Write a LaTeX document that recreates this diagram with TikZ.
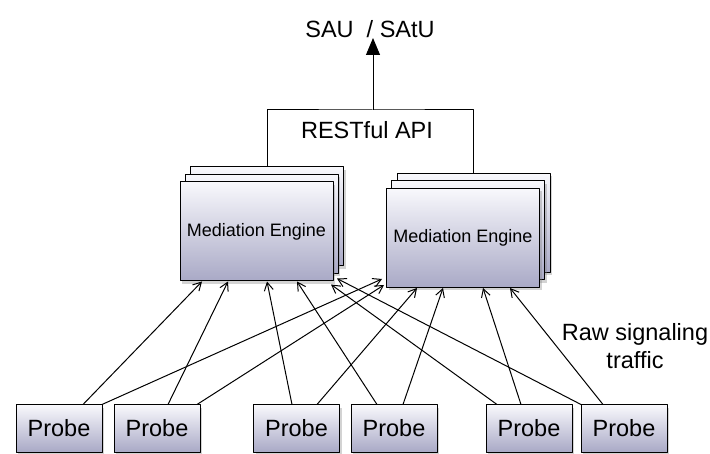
\documentclass[tikz,border=0pt]{standalone}
\usepackage{fontspec}
\setmainfont{Liberation Sans}
\usetikzlibrary{arrows.meta,shadows}
\definecolor{boxtop}{HTML}{F8F8FC}
\definecolor{boxbot}{HTML}{A9A9C6}
\begin{document}
\begin{tikzpicture}[x=1pt,y=-1pt,line join=round,
	font=\fontsize{23.5}{28}\selectfont,
	>={Straight Barb[length=8pt,width=9pt]},
	box/.style={draw,line width=1pt,top color=boxtop,bottom color=boxbot,
		drop shadow={opacity=0.35,shadow xshift=2pt,shadow yshift=-3pt}},
	engine/.style={box,minimum width=153pt,minimum height=99pt,inner sep=0pt,
		font=\fontsize{18}{22}\selectfont},
	probe/.style={box,minimum width=86pt,minimum height=47pt,inner sep=0pt},
	feed/.style={->,line width=1pt}]
	\useasboundingbox (0,0) rectangle (710,454);
	% stacked mediation engines
	\foreach \n/\x/\y in {m1/256.5/231.5,m2/463/238}{
		\node[engine] (\n c) at (\x+10.5,\y-15) {};
		\node[engine] (\n b) at (\x+5,\y-7.5) {};
		\node[engine] (\n) at (\x,\y) {Mediation Engine};
	}
	\foreach \n/\x in {1/59,2/157,3/296.5,4/394,5/529,6/624}
		\node[probe] (p\n) at (\x,428.5) {Probe};
	\node (api) at (367,130) {RESTful API};
	\node[anchor=south,inner sep=0pt] (sau) at (370,38) {SAU~~/ SAtU};
	\node[align=center] (raw) at (635,346) {Raw signaling\\traffic};
	\path (373,110) coordinate (top);
	\draw[line width=1pt] (m1c.north) |- (top) -| (m2c.north);
	\draw[line width=1pt,-{Triangle[length=17pt,width=14pt]}] (top) -- (top |- sau.south);
	% probe feeds
	\foreach \p/\a/\t/\b/\c in {1/24/m1/-54.5/0,1/43/m2/-81/9,2/11/m1/-28.5/0,2/40/m2/-79/3,
		3/-4.5/m1/10.5/0,3/20.5/m2/-46/0,4/-17/m1/40.5/0,4/9/m2/-20/0,
		5/-32/m1/74.5/-3,5/-8/m2/20/0,6/-43/m1/80.5/3,6/-21/m2/47/0}
		\draw[feed] ([xshift=\a pt]p\p.north) -- ([xshift=\b pt,yshift=\c pt]\t.south);
\end{tikzpicture}
\end{document}
